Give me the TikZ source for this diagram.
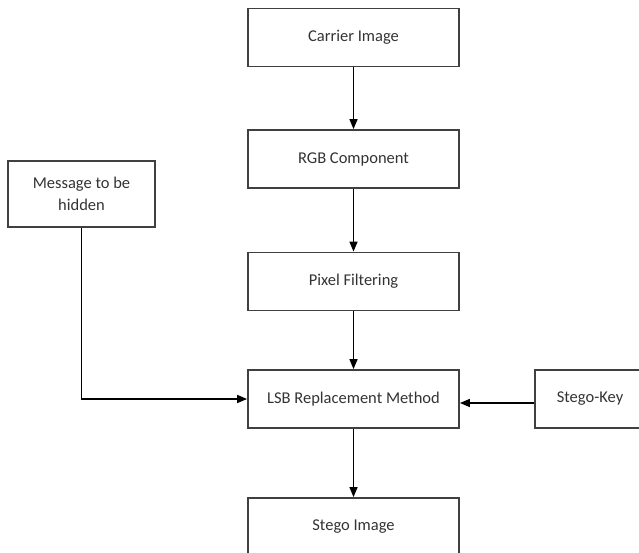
\documentclass[tikz,border=0pt]{standalone}
\usepackage{fontspec}
\setmainfont{Carlito}
\usetikzlibrary{arrows.meta}
\begin{document}
\begin{tikzpicture}[x=1pt,y=-1pt,
  box/.style={draw=black!75, line width=1.8pt, minimum width=211pt, minimum height=58pt,
    inner sep=0pt, text=black!80, font=\fontsize{16.5}{22}\selectfont, align=center},
  arr/.style={-{Triangle[length=10pt,width=8pt]}, line width=1.5pt, black}]
\useasboundingbox (0,0) rectangle (639,552);
\node[box] (carrier) at (353.5,37.5) {Carrier Image};
\node[box] (rgb) at (353.5,159) {RGB Component};
\node[box] (pixel) at (353.5,281.5) {Pixel Filtering};
\node[box] (lsb) at (353.5,399) {LSB Replacement Method};
\node[box] (stego) at (353.5,527) {Stego Image};
\node[box, minimum width=147pt, minimum height=66pt] (msg) at (81.5,194) {Message to be\\hidden};
\node[box, minimum width=110pt] (key) at (590,399) {Stego-Key};
\draw[arr] (carrier) -- (rgb);
\draw[arr] (rgb) -- (pixel);
\draw[arr] (pixel) -- (lsb);
\draw[arr] (lsb) -- (stego);
\draw[arr] (msg.south) |- (lsb.west);
\draw[arr] ([yshift=-4pt]key.west) -- ([yshift=-4pt]lsb.east);
\end{tikzpicture}
\end{document}
